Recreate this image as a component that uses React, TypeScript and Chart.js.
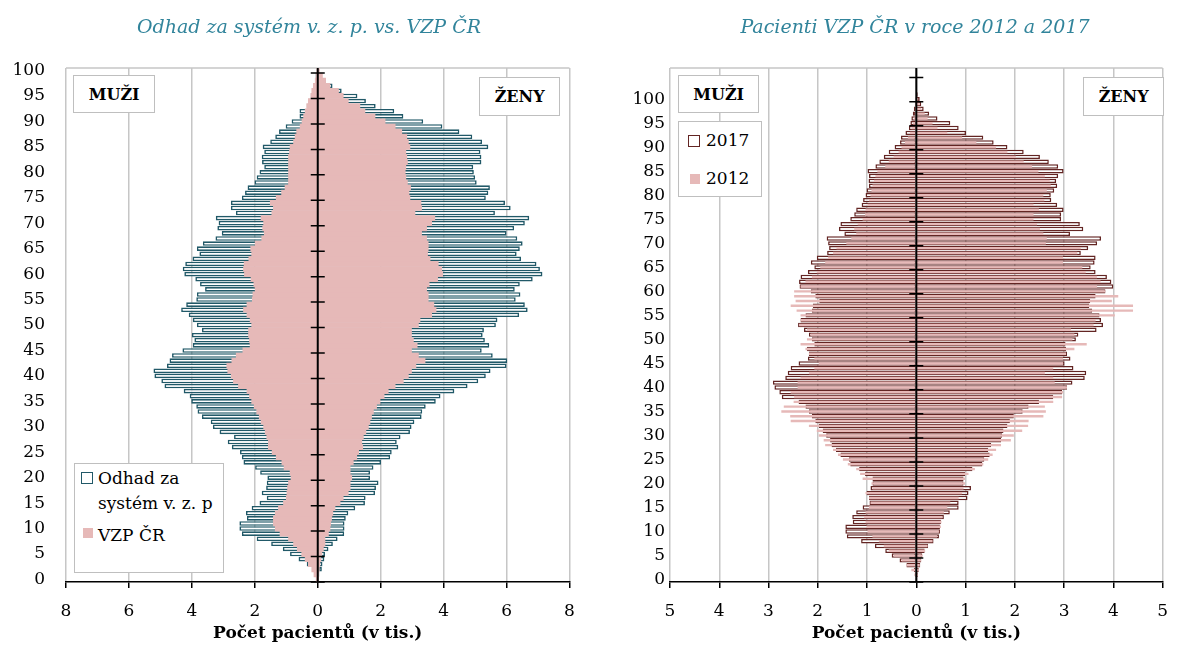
import React, { useEffect, useRef } from "react";
import { Chart, registerables } from "chart.js";

Chart.register(...registerables);
Chart.defaults.font.family = "'DejaVu Serif', serif";
Chart.defaults.color = "#000";

const FONT = "'DejaVu Serif', serif";

// ---------- Left chart: ages 0..100, values in thousands ----------
const AGES_LEFT: string[] = Array.from({ length: 101 }, (_, i) => String(i));

const ODHAD_MUZI = [
  0.03, 0.08, 0.12, 0.35, 0.61, 0.88, 1.11, 1.48, 1.94, 2.41,
  2.49, 2.49, 2.25, 2.28, 2.1, 1.85, 1.62, 1.78, 1.64, 1.62,
  1.6, 1.83, 1.99, 2.36, 2.41, 2.47, 2.73, 2.86, 2.66, 3.12,
  3.33, 3.4, 3.68, 3.82, 3.86, 4.02, 4.07, 4.26, 4.87, 4.97,
  5.19, 5.22, 4.79, 4.71, 4.63, 4.3, 3.97, 3.92, 4.0, 3.68,
  3.84, 3.97, 4.1, 4.34, 4.18, 3.86, 3.84, 3.58, 3.74, 3.89,
  4.24, 4.29, 4.21, 3.98, 3.76, 3.84, 3.65, 3.25, 3.05, 3.19,
  3.15, 3.24, 2.6, 2.76, 2.76, 2.41, 2.31, 2.23, 2.01, 1.94,
  1.85, 1.7, 1.77, 1.78, 1.7, 1.75, 1.51, 1.35, 1.23, 1.02,
  0.83, 0.58, 0.58, 0.35, 0.3, 0.22, 0.17, 0.12, 0.08, 0.07, 0.03,
];
const ODHAD_ZENY = [
  0.02, 0.05, 0.13, 0.15, 0.21, 0.23, 0.34, 0.48, 0.63, 0.84,
  0.85, 0.85, 0.89, 0.97, 1.19, 1.5, 1.52, 1.82, 1.85, 1.93,
  1.66, 1.66, 1.77, 2.01, 2.3, 2.35, 2.56, 2.51, 2.63, 2.93,
  2.98, 3.07, 3.3, 3.32, 3.43, 3.75, 3.9, 4.34, 4.76, 5.1,
  5.34, 5.49, 6.0, 6.02, 5.56, 5.21, 5.45, 5.31, 5.24, 5.28,
  5.66, 5.71, 6.4, 6.67, 6.58, 6.29, 6.44, 6.26, 6.42, 6.83,
  7.14, 7.06, 6.95, 6.46, 6.32, 6.42, 6.51, 6.34, 6.0, 6.24,
  6.58, 6.72, 5.63, 6.13, 5.95, 5.34, 5.42, 5.47, 5.05, 5.0,
  4.96, 4.94, 5.2, 5.2, 5.17, 5.42, 5.22, 4.91, 4.5, 3.96,
  3.35, 2.72, 2.43, 1.84, 1.53, 1.26, 0.76, 0.47, 0.25, 0.12, 0.05,
];
const VZP_MUZI = [
  0.05, 0.12, 0.19, 0.3, 0.4, 0.51, 0.65, 0.77, 0.93, 1.2,
  1.35, 1.41, 1.41, 1.35, 1.25, 1.09, 1.0, 0.98, 0.96, 0.93,
  0.85, 0.88, 1.07, 1.14, 1.32, 1.45, 1.57, 1.57, 1.62, 1.67,
  1.72, 1.8, 1.86, 1.94, 2.02, 2.1, 2.17, 2.25, 2.52, 2.68,
  2.75, 2.86, 2.89, 2.73, 2.59, 2.38, 2.15, 2.17, 2.2, 2.2,
  2.1, 2.15, 2.25, 2.36, 2.25, 2.08, 2.06, 1.99, 2.03, 2.12,
  2.33, 2.36, 2.34, 2.19, 2.1, 2.13, 1.99, 1.78, 1.7, 1.75,
  1.72, 1.8, 1.46, 1.41, 1.51, 1.32, 1.15, 1.04, 0.93, 0.93,
  0.93, 0.93, 0.93, 0.93, 0.9, 0.88, 0.77, 0.72, 0.67, 0.56,
  0.5, 0.45, 0.4, 0.35, 0.3, 0.22, 0.19, 0.14, 0.08, 0.05, 0.03,
];
const VZP_ZENY = [
  0.02, 0.03, 0.05, 0.07, 0.1, 0.13, 0.18, 0.23, 0.23, 0.34,
  0.39, 0.41, 0.44, 0.48, 0.55, 0.71, 0.81, 0.97, 1.03, 1.03,
  1.08, 1.03, 1.03, 1.13, 1.24, 1.3, 1.43, 1.4, 1.45, 1.53,
  1.61, 1.66, 1.71, 1.77, 1.87, 1.98, 2.11, 2.24, 2.46, 2.72,
  2.88, 2.98, 3.12, 3.41, 3.2, 2.98, 3.16, 3.04, 2.98, 2.98,
  3.2, 3.25, 3.62, 3.76, 3.69, 3.51, 3.51, 3.46, 3.54, 3.81,
  3.97, 3.94, 3.83, 3.57, 3.49, 3.51, 3.51, 3.46, 3.3, 3.46,
  3.62, 3.72, 3.09, 3.3, 3.28, 2.93, 2.9, 2.95, 2.85, 2.8,
  2.78, 2.8, 2.85, 2.83, 2.8, 2.93, 2.88, 2.83, 2.67, 2.46,
  2.14, 1.82, 1.5, 1.34, 0.97, 0.81, 0.66, 0.39, 0.25, 0.15, 0.05,
];

// ---------- Right chart: ages 0..106 ----------
const AGES_RIGHT: string[] = Array.from({ length: 107 }, (_, i) => String(i));

const P2017_MUZI = [
  0.02, 0.03, 0.05, 0.2, 0.34, 0.5, 0.63, 0.84, 1.12, 1.41,
  1.44, 1.44, 1.29, 1.3, 1.22, 1.09, 0.95, 0.96, 1.01, 0.93,
  0.89, 0.89, 1.04, 1.16, 1.34, 1.37, 1.54, 1.63, 1.72, 1.75,
  1.83, 1.9, 1.98, 2.05, 2.12, 2.18, 2.25, 2.39, 2.73, 2.78,
  2.88, 2.91, 2.66, 2.61, 2.55, 2.39, 2.2, 2.18, 2.22, 2.07,
  2.12, 2.18, 2.28, 2.4, 2.35, 2.25, 2.12, 2.1, 1.97, 2.05,
  2.14, 2.37, 2.38, 2.35, 2.2, 2.07, 2.14, 2.02, 1.81, 1.77,
  1.79, 1.82, 1.46, 1.57, 1.54, 1.34, 1.26, 1.22, 1.11, 1.08,
  1.03, 1.01, 0.96, 0.97, 0.96, 0.99, 0.83, 0.75, 0.66, 0.56,
  0.44, 0.33, 0.31, 0.22, 0.15, 0.12, 0.1, 0.07, 0.05, 0.03,
  0.01, 0, 0, 0, 0, 0, 0,
];
const P2017_ZENY = [
  0.01, 0.03, 0.05, 0.08, 0.1, 0.12, 0.17, 0.24, 0.35, 0.46,
  0.48, 0.48, 0.5, 0.56, 0.68, 0.86, 0.86, 1.04, 1.06, 1.11,
  0.96, 0.96, 0.99, 1.14, 1.34, 1.38, 1.49, 1.46, 1.52, 1.72,
  1.74, 1.77, 1.85, 1.9, 1.98, 2.16, 2.28, 2.49, 2.78, 2.96,
  3.06, 3.17, 3.42, 3.45, 3.19, 3.01, 3.13, 3.06, 3.04, 3.03,
  3.24, 3.29, 3.66, 3.79, 3.75, 3.72, 3.57, 3.51, 3.53, 3.64,
  3.84, 4.0, 3.96, 3.87, 3.64, 3.54, 3.62, 3.64, 3.34, 3.49,
  3.67, 3.75, 3.12, 3.39, 3.32, 2.94, 2.94, 2.99, 2.86, 2.74,
  2.73, 2.8, 2.86, 2.84, 2.88, 2.99, 2.88, 2.69, 2.51, 2.18,
  1.85, 1.57, 1.36, 1.01, 0.86, 0.69, 0.43, 0.26, 0.15, 0.1,
  0.07, 0.03, 0, 0, 0, 0, 0,
];
const P2012_MUZI = [
  0.02, 0.04, 0.1, 0.2, 0.3, 0.46, 0.56, 0.66, 0.76, 0.89,
  0.99, 1.01, 1.03, 1.06, 1.03, 0.96, 0.93, 0.96, 1.03, 0.89,
  0.91, 1.09, 1.14, 1.22, 1.39, 1.49, 1.59, 1.69, 1.85, 1.88,
  1.98, 2.02, 2.18, 2.55, 2.56, 2.74, 2.69, 2.49, 2.48, 2.55,
  2.41, 2.41, 2.35, 2.18, 2.07, 1.98, 2.07, 2.18, 2.25, 2.35,
  2.22, 2.15, 2.22, 2.38, 2.35, 2.35, 2.43, 2.55, 2.45, 2.48,
  2.48, 2.35, 2.25, 2.12, 2.02, 1.95, 1.85, 1.79, 1.69, 1.62,
  1.42, 1.32, 1.22, 1.26, 1.19, 1.09, 1.04, 1.03, 0.99, 0.96,
  0.93, 0.91, 0.89, 0.86, 0.83, 0.79, 0.63, 0.56, 0.46, 0.36,
  0.3, 0.23, 0.17, 0.13, 0.1, 0.07, 0.05, 0.03, 0.02, 0.01,
  0.01, 0, 0, 0, 0, 0, 0,
];
const P2012_ZENY = [
  0.01, 0.03, 0.05, 0.07, 0.1, 0.13, 0.18, 0.23, 0.33, 0.42,
  0.46, 0.5, 0.51, 0.53, 0.56, 0.63, 0.69, 0.86, 0.93, 0.96,
  0.99, 0.99, 1.06, 1.19, 1.36, 1.46, 1.55, 1.62, 1.72, 1.92,
  1.98, 2.15, 2.27, 2.28, 2.58, 2.63, 2.61, 2.78, 2.96, 2.98,
  3.06, 2.81, 2.78, 2.61, 2.78, 2.98, 2.98, 3.04, 3.21, 3.46,
  3.17, 3.21, 3.14, 3.6, 3.64, 4.03, 4.4, 4.4, 3.97, 4.1,
  3.84, 3.67, 3.74, 3.67, 3.44, 3.37, 2.98, 2.98, 3.27, 3.34,
  2.63, 2.65, 2.58, 2.51, 2.45, 2.38, 2.38, 2.49, 2.38, 2.6,
  2.58, 2.65, 2.73, 2.71, 2.61, 2.48, 2.35, 2.18, 2.02, 1.85,
  1.62, 1.22, 0.93, 0.63, 0.43, 0.33, 0.23, 0.17, 0.1, 0.07,
  0.04, 0, 0, 0, 0, 0, 0,
];

const TITLE_LEFT = "Odhad za systém v. z. p. vs. VZP ČR";
const TITLE_RIGHT = "Pacienti VZP ČR v roce 2012 a 2017";
const AXIS_TITLE = "Počet pacientů (v tis.)";

const PINK = "#E6B9B8";
const TEAL = "#215968";
const MAROON = "#632523";
const GRID = "#c6c6c6";

const centerAxisPlugin = {
  id: "centerAxis",
  beforeDatasetsDraw(chart: any) {
    const { ctx, chartArea } = chart;
    ctx.save();
    ctx.strokeStyle = GRID;
    ctx.lineWidth = 1.5;
    ctx.beginPath();
    ctx.moveTo(chartArea.left, chartArea.top);
    ctx.lineTo(chartArea.right, chartArea.top);
    ctx.stroke();
    ctx.restore();
  },
  afterDatasetsDraw(chart: any) {
    const { ctx, chartArea, scales } = chart;
    const x0 = scales.x.getPixelForValue(0);
    const n = chart.data.labels.length;
    const band = (chartArea.bottom - chartArea.top) / n;
    ctx.save();
    ctx.strokeStyle = "#000";
    ctx.lineWidth = 2;
    ctx.beginPath();
    ctx.moveTo(x0, chartArea.top);
    ctx.lineTo(x0, chartArea.bottom);
    ctx.stroke();
    ctx.lineWidth = 1.5;
    ctx.beginPath();
    for (let k = 0; k < n; k += 5) {
      const yy = scales.y.getPixelForValue(k) + band / 2;
      ctx.moveTo(x0 - 7, yy);
      ctx.lineTo(x0 + 7, yy);
    }
    ctx.stroke();
    ctx.restore();
  },
};

function makeConfig(p: {
  labels: string[];
  fillMen: number[];
  fillWomen: number[];
  outMen: number[];
  outWomen: number[];
  outColor: string;
  outWidth: number;
  fillPct: number;
  outPct: number;
  max: number;
  step: number;
  padRight: number;
  yWidth: number;
  yPad: number;
}) {
  const fillBase = {
    backgroundColor: PINK,
    borderWidth: 0,
    barPercentage: p.fillPct,
    categoryPercentage: 1,
    grouped: false,
  };
  const outBase = {
    backgroundColor: "#ffffff",
    borderColor: p.outColor,
    borderWidth: p.outWidth,
    borderSkipped: false,
    barPercentage: p.outPct,
    categoryPercentage: 1,
    grouped: false,
  };
  return {
    type: "bar",
    data: {
      labels: p.labels,
      datasets: [
        { ...fillBase, label: "fm", data: p.fillMen.map((v) => -v) },
        { ...fillBase, label: "fw", data: p.fillWomen },
        { ...outBase, label: "om", data: p.outMen.map((v) => -v) },
        { ...outBase, label: "ow", data: p.outWomen },
      ],
    },
    options: {
      responsive: false,
      animation: false,
      indexAxis: "y",
      layout: { padding: { left: 0, right: p.padRight, top: 68, bottom: 0 } },
      plugins: {
        legend: { display: false },
        tooltip: { enabled: false },
        title: { display: false },
      },
      scales: {
        x: {
          type: "linear",
          min: -p.max,
          max: p.max,
          ticks: {
            stepSize: p.step,
            padding: 13,
            color: "#000",
            font: { family: FONT, size: 17 },
            callback: (v: any) => String(Math.abs(Number(v))),
          },
          grid: {
            color: GRID,
            lineWidth: 1.5,
            tickColor: "#000",
            tickLength: 6,
            tickWidth: 1.5,
          },
          border: { color: "#000", width: 1.5 },
          title: {
            display: true,
            text: AXIS_TITLE,
            color: "#000",
            font: { family: FONT, size: 17, weight: "bold" },
            padding: { top: 0, bottom: 1 },
          },
          afterFit: (s: any) => {
            s.height = 63;
          },
        },
        y: {
          type: "category",
          reverse: true,
          ticks: {
            autoSkip: false,
            padding: p.yPad,
            color: "#000",
            font: { family: FONT, size: 17 },
            callback: function (this: any, value: any) {
              const lab = this.getLabelForValue(value);
              const n = Number(lab);
              return n % 5 === 0 && n <= 100 ? lab : "";
            },
          },
          grid: { display: false, drawTicks: false },
          border: { display: false },
          afterFit: (s: any) => {
            s.width = p.yWidth;
          },
        },
      },
    },
    plugins: [centerAxisPlugin],
  };
}

function ChartCanvas({ left, width, config }: { left: number; width: number; config: any }) {
  const ref = useRef<HTMLCanvasElement>(null);
  useEffect(() => {
    const chart = new Chart(ref.current as HTMLCanvasElement, config);
    return () => chart.destroy();
  }, []);
  return (
    <canvas
      ref={ref}
      width={width}
      height={645}
      style={{ position: "absolute", left, top: 0, width, height: 645 }}
    />
  );
}

const boxStyle = (left: number, top: number, w: number, h: number): React.CSSProperties => ({
  position: "absolute",
  left,
  top,
  width: w,
  height: h,
  boxSizing: "border-box",
  border: "1.5px solid #bfbfbf",
  background: "#fff",
  display: "flex",
  alignItems: "center",
  justifyContent: "center",
  fontFamily: FONT,
  fontWeight: "bold",
  fontSize: 16,
  color: "#000",
});

const textStyle = (left: number, top: number): React.CSSProperties => ({
  position: "absolute",
  left,
  top,
  fontFamily: FONT,
  fontSize: 17,
  lineHeight: "25px",
  color: "#000",
  whiteSpace: "nowrap",
});

const marker = (left: number, top: number, size: number, fill: string, border?: string): React.CSSProperties => ({
  position: "absolute",
  left,
  top,
  width: size,
  height: size,
  boxSizing: "border-box",
  background: fill,
  border: border ? `1.5px solid ${border}` : "none",
});

const titleStyle = (left: number, width: number): React.CSSProperties => ({
  position: "absolute",
  left,
  width,
  top: 14,
  lineHeight: "24px",
  textAlign: "center",
  fontFamily: FONT,
  fontStyle: "italic",
  fontSize: 19,
  color: "#31849B",
  whiteSpace: "nowrap",
});

export default function App() {
  const leftCfg = makeConfig({
    labels: AGES_LEFT,
    fillMen: VZP_MUZI,
    fillWomen: VZP_ZENY,
    outMen: ODHAD_MUZI,
    outWomen: ODHAD_ZENY,
    outColor: TEAL,
    outWidth: 1.6,
    fillPct: 1.0,
    outPct: 0.9,
    max: 8,
    step: 2,
    padRight: 20.5,
    yWidth: 66,
    yPad: 21,
  });
  const rightCfg = makeConfig({
    labels: AGES_RIGHT,
    fillMen: P2012_MUZI,
    fillWomen: P2012_ZENY,
    outMen: P2017_MUZI,
    outWomen: P2017_ZENY,
    outColor: MAROON,
    outWidth: 1.5,
    fillPct: 0.5,
    outPct: 0.92,
    max: 5,
    step: 1,
    padRight: 7.7,
    yWidth: 70,
    yPad: 5,
  });
  return (
    <div style={{ position: "absolute", left: 0, top: 0, width: 1181, height: 645, background: "#fff", overflow: "hidden" }}>
      <ChartCanvas left={0} width={590} config={leftCfg} />
      <ChartCanvas left={600} width={581} config={rightCfg} />

      <div style={titleStyle(0, 618)}>{TITLE_LEFT}</div>
      <div style={titleStyle(615, 600)}>{TITLE_RIGHT}</div>

      <div style={boxStyle(73.3, 75, 81.7, 38.3)}>MUŽI</div>
      <div style={boxStyle(479.3, 77.3, 80.7, 38.7)}>ŽENY</div>
      <div style={boxStyle(678.3, 75, 80.7, 38.3)}>MUŽI</div>
      <div style={boxStyle(1083.3, 77.3, 80.7, 38.7)}>ŽENY</div>

      {/* left legend */}
      <div style={{ ...boxStyle(74, 462.7, 150.3, 110), display: "block" }} />
      <div style={marker(80.7, 471.7, 12, "#fff", TEAL)} />
      <div style={textStyle(98, 465.5)}>
        Odhad za
        <br />
        systém v. z. p
      </div>
      <div style={marker(82.7, 528, 10, PINK)} />
      <div style={textStyle(98, 522.5)}>VZP ČR</div>

      {/* right legend */}
      <div style={{ ...boxStyle(678, 120.7, 83.7, 76.6), display: "block" }} />
      <div style={marker(688.3, 135, 11.5, "#fff", MAROON)} />
      <div style={textStyle(706, 127.5)}>2017</div>
      <div style={marker(690, 174, 9.5, PINK)} />
      <div style={textStyle(706, 165.5)}>2012</div>
    </div>
  );
}
